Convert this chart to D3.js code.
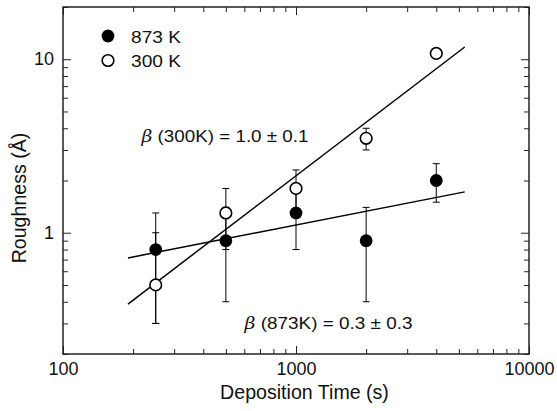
<!DOCTYPE html>
<html>
<head>
<meta charset="utf-8">
<script src="https://cdn.jsdelivr.net/npm/d3@7"></script>
<style>
  html, body { margin: 0; padding: 0; background: #fff; }
  svg { display: block; }
  text { font-family: Arial, "Liberation Sans", Helvetica, sans-serif; fill: #111; }
</style>
</head>
<body>
<svg id="chart" width="557" height="411"></svg>
<script>
// ---- data ----
const times = [250, 500, 1000, 2000, 4000];           // deposition time (s)
const rough873 = [0.8, 0.9, 1.3, 0.9, 2.0];            // roughness (Å), 873 K
const err873Low = [0.3, 0.4, 0.8, 0.4, 1.5];
const err873High = [1.3, 1.4, 1.8, 1.4, 2.5];
const rough300 = [0.5, 1.3, 1.8, 3.5, 10.8];           // roughness (Å), 300 K
const err300Low = [0.3, 0.8, 1.3, 3.0, 10.3];
const err300High = [1.0, 1.8, 2.3, 4.0, 11.3];
const fitRange = [190, 5300];                          // fitted line span (s)
const fit300 = [0.388, 11.76];                         // fit values at span ends
const fit873 = [0.716, 1.72];
const xMajorTicks = [100, 1000, 10000];
const yMajorTicks = [1, 10];
const seriesNames = ["873 K", "300 K"];

// ---- layout ----
const W = 557, H = 411;
const m = {left: 63, right: 28, top: 7, bottom: 57};
const svg = d3.select("#chart");

const x = d3.scaleLog().domain([100, 10000]).range([m.left, W - m.right]);
const y = d3.scaleLog().domain([0.2, 20]).range([H - m.bottom, m.top]);

const majLen = 8, minLen = 5;
const xMinor = x.ticks().filter(v => !xMajorTicks.includes(v));
const yMinor = y.ticks().filter(v => !yMajorTicks.includes(v));

function styleAxis(g) {
  g.select(".domain").remove();
  g.selectAll(".tick line").attr("stroke", "#222").attr("stroke-width", 1);
}
// bottom
svg.append("g").attr("transform", `translate(0,${H - m.bottom})`)
  .call(d3.axisBottom(x).tickValues(xMinor).tickSize(-minLen).tickFormat(""))
  .call(styleAxis);
const xb = svg.append("g").attr("transform", `translate(0,${H - m.bottom})`)
  .call(d3.axisBottom(x).tickValues(xMajorTicks).tickSize(-majLen).tickFormat(d3.format("d")))
  .call(styleAxis);
xb.selectAll("text").attr("font-size", 18).attr("fill", "#111")
  .attr("dy", "0.71em").attr("y", 8);
// top
svg.append("g").attr("transform", `translate(0,${m.top})`)
  .call(d3.axisTop(x).tickValues(xMinor).tickSize(-minLen).tickFormat(""))
  .call(styleAxis);
svg.append("g").attr("transform", `translate(0,${m.top})`)
  .call(d3.axisTop(x).tickValues(xMajorTicks).tickSize(-majLen).tickFormat(""))
  .call(styleAxis);
// left
svg.append("g").attr("transform", `translate(${m.left},0)`)
  .call(d3.axisLeft(y).tickValues(yMinor).tickSize(-minLen).tickFormat(""))
  .call(styleAxis);
const yl = svg.append("g").attr("transform", `translate(${m.left},0)`)
  .call(d3.axisLeft(y).tickValues(yMajorTicks).tickSize(-majLen).tickFormat(d3.format("d")))
  .call(styleAxis);
yl.selectAll("text").attr("font-size", 18).attr("fill", "#111").attr("x", -9);
// right
svg.append("g").attr("transform", `translate(${W - m.right},0)`)
  .call(d3.axisRight(y).tickValues(yMinor).tickSize(-minLen).tickFormat(""))
  .call(styleAxis);
svg.append("g").attr("transform", `translate(${W - m.right},0)`)
  .call(d3.axisRight(y).tickValues(yMajorTicks).tickSize(-majLen).tickFormat(""))
  .call(styleAxis);

// frame
svg.append("rect")
  .attr("x", m.left).attr("y", m.top)
  .attr("width", W - m.left - m.right).attr("height", H - m.top - m.bottom)
  .attr("fill", "none").attr("stroke", "#222").attr("stroke-width", 1.5);

// axis titles
svg.append("text").attr("x", 304.5).attr("y", 399)
  .attr("text-anchor", "middle").attr("font-size", 19.6).text("Deposition Time (s)");
svg.append("text").attr("transform", `translate(26,198) rotate(-90)`)
  .attr("text-anchor", "middle").attr("font-size", 19.6).text("Roughness (Å)");

// fit lines
const line = d3.line().x(d => x(d[0])).y(d => y(d[1]));
[fit873, fit300].forEach(f => {
  svg.append("path").datum(fitRange.map((t, i) => [t, f[i]]))
    .attr("d", line).attr("fill", "none").attr("stroke", "#000").attr("stroke-width", 1.5);
});

// error bars + markers
const capW = 3.5;
function drawSeries(vals, lo, hi, filled) {
  const g = svg.append("g");
  const data = times.map((t, i) => ({t, v: vals[i], lo: lo[i], hi: hi[i]}));
  const eb = g.selectAll(".eb").data(data).join("g").attr("stroke", "#000").attr("stroke-width", 1);
  eb.append("line").attr("x1", d => x(d.t)).attr("x2", d => x(d.t)).attr("y1", d => y(d.lo)).attr("y2", d => y(d.hi));
  eb.append("line").attr("x1", d => x(d.t) - capW).attr("x2", d => x(d.t) + capW).attr("y1", d => y(d.lo)).attr("y2", d => y(d.lo));
  eb.append("line").attr("x1", d => x(d.t) - capW).attr("x2", d => x(d.t) + capW).attr("y1", d => y(d.hi)).attr("y2", d => y(d.hi));
  return {g, data, filled};
}
const s873 = drawSeries(rough873, err873Low, err873High, true);
const s300 = drawSeries(rough300, err300Low, err300High, false);
[s873, s300].forEach(s => {
  s.g.selectAll("circle").data(s.data).join("circle")
    .attr("cx", d => x(d.t)).attr("cy", d => y(d.v)).attr("r", s.filled ? 6.4 : 5.8)
    .attr("fill", s.filled ? "#000" : "#fff").attr("stroke", "#000").attr("stroke-width", s.filled ? 0 : 1.6);
});

// legend
const leg = svg.append("g");
seriesNames.forEach((name, i) => {
  const cy = 36 + i * 24.5;
  leg.append("circle").attr("cx", 108).attr("cy", cy).attr("r", i === 0 ? 6.4 : 5.8)
    .attr("fill", i === 0 ? "#000" : "#fff").attr("stroke", "#000").attr("stroke-width", i === 0 ? 0 : 1.6);
  leg.append("text").attr("x", 131).attr("y", cy + 6.5).attr("font-size", 17)
    .attr("textLength", 50).attr("lengthAdjust", "spacingAndGlyphs").text(name);
});

// annotations
function annot(xp, yp, label, len) {
  const t = svg.append("text").attr("x", xp).attr("y", yp).attr("font-size", 17)
    .attr("textLength", len).attr("lengthAdjust", "spacingAndGlyphs");
  t.append("tspan").attr("font-style", "italic").attr("font-family", "DejaVu Serif, serif").text("β");
  t.append("tspan").text(" " + label);
}
annot(141.5, 142, "(300K) = 1.0 ± 0.1", 167);
annot(244.5, 329, "(873K) = 0.3 ± 0.3", 168);
</script>
</body>
</html>
